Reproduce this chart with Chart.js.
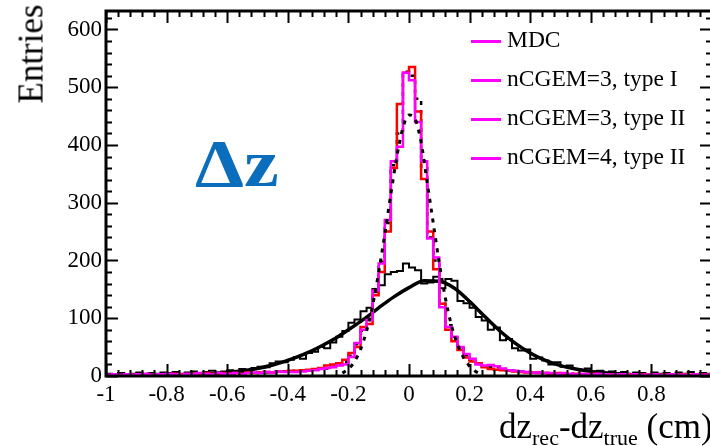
<!DOCTYPE html>
<html><head><meta charset="utf-8">
<script src="https://cdn.jsdelivr.net/npm/chart.js@4.4.1/dist/chart.umd.min.js"></script>
<style>
html,body{margin:0;padding:0;background:#fff;overflow:hidden;width:710px;height:446px;}
#wrap{position:relative;width:716px;height:446px;}
canvas{position:absolute;left:0;top:0;}
.t{position:absolute;font-family:"Liberation Serif","DejaVu Serif",serif;color:#000;white-space:nowrap;line-height:1;}
#ytitle{font-size:35px;left:31px;top:54px;transform:translate(-50%,-50%) rotate(-90deg);}
#xtitle{font-size:35px;left:499px;top:409px;}
#xtitle sub{font-size:22px;vertical-align:-7px;}
#dz{font-size:68px;font-weight:bold;color:#0a6ebd;left:195px;top:129px;transform-origin:0 0;transform:scaleX(1.15);}
.lg{position:absolute;left:471px;height:0;}
.lg i{position:absolute;left:0;top:-1px;width:30px;height:2.5px;background:#ff00ff;}
.lg span{position:absolute;left:36px;top:-13px;font-size:23.5px;}
</style></head><body>
<div id="wrap">
<canvas id="c" width="716" height="446"></canvas>
<div class="t" id="ytitle">Entries</div>
<div class="t" id="xtitle">dz<sub>rec</sub>-dz<sub>true</sub> (cm)</div>
<div class="t" id="dz">Δz</div>
<div class="lg t" style="top:41px"><i></i><span>MDC</span></div>
<div class="lg t" style="top:80px"><i></i><span>nCGEM=3, type I</span></div>
<div class="lg t" style="top:119px"><i></i><span>nCGEM=3, type II</span></div>
<div class="lg t" style="top:158px"><i></i><span>nCGEM=4, type II</span></div>
</div>
<script>
// ---- data ----
const BIN_START = -1.0;
const BIN_WIDTH = 0.02;
const xTickValues = [-1,-0.8,-0.6,-0.4,-0.2,0,0.2,0.4,0.6,0.8];
const xTickLabels = ["-1","-0.8","-0.6","-0.4","-0.2","0","0.2","0.4","0.6","0.8"];
const yTickValues = [0,100,200,300,400,500,600];
const yTickLabels = ["0","100","200","300","400","500","600"];

// MDC (black solid histogram)
const mdc = [4,3,5,2,4,6,3,5,4,6, 5,7,4,6,8,5,7,9,6,8,
  10,8,12,10,14,16,15,22,25,24, 28,33,30,40,42,50,48,58,68,78,
  92,98,112,118,145,157,176,180,182,195, 188,183,160,162,172,152,168,165,130,126,
  118,102,96,80,84,62,64,48,44,46, 30,32,27,20,24,16,18,12,10,13,
  8,9,6,8,5,7,4,6,5,3, 6,4,5,3,6,4,7,3,5,4];

// nCGEM=3, type I (red histogram)
const cgem3I = [1,2,1,3,2,2,3,2,3,2, 3,4,3,2,4,3,5,4,3,5,
  4,5,4,6,5,6,7,6,8,8, 9,9,10,11,12,14,18,20,22,28,
  40,50,85,90,140,180,250,360,471,525, 535,458,341,250,185,125,80,60,45,32,
  25,22,15,12,11,10,9,8,7,6, 6,5,5,4,5,4,3,4,3,3,
  4,3,2,3,3,2,3,2,2,3, 2,2,3,2,2,3,2,2,2,2];

// nCGEM=3, type II (magenta histogram)
const cgem3II = [2,3,2,3,2,3,4,2,3,3, 4,3,2,4,3,5,4,3,5,4,
  4,5,3,5,6,5,7,6,8,7, 7,7,8,9,10,12,14,15,18,20,
  33,57,80,97,148,195,270,372,397,525, 512,440,372,238,205,119,85,68,50,38,
  30,20,18,19,17,13,10,9,8,7, 6,6,5,5,4,5,4,3,4,3,
  3,4,3,2,3,3,2,3,2,2, 3,2,2,3,2,2,2,3,2,2];

// nCGEM=4, type II (black dashed histogram)
const cgem4II = [2,2,3,2,3,2,3,3,2,3, 3,4,3,3,4,4,3,5,4,4,
  5,4,5,6,5,6,6,7,7,8, 8,9,9,10,11,12,13,16,19,24,
  35,55,78,100,150,198,265,365,420,527, 520,480,360,240,200,125,88,66,48,36,
  28,22,17,16,15,12,10,9,8,7, 6,6,5,4,4,4,4,3,3,3,
  3,3,3,2,3,2,2,3,2,2, 2,2,2,2,2,2,2,2,2,2];

// Fit curves (x in cm, y in entries)
const fitMdcX = [-0.7,-0.65,-0.6,-0.55,-0.5,-0.45,-0.4,-0.35,-0.3,-0.25,-0.2,-0.15,-0.1,-0.05,0,0.05,0.1,0.15,0.2,0.25,0.3,0.35,0.4,0.45,0.5,0.55,0.6,0.65,0.7,0.75];
const fitMdcY = [3,4,6,9,13,19,27,37,49,63,80,98,118,137,153,165,164,152,129,103,78,57,40,27,18,12,8,5,3,2];
const fitNarrowX = [-0.22,-0.2,-0.18,-0.16,-0.14,-0.12,-0.1,-0.08,-0.06,-0.04,-0.02,0,0.02,0.04,0.06,0.08,0.1,0.12,0.14,0.16,0.18,0.2,0.22,0.24];
const fitNarrowY = [5,12,25,46,78,122,180,245,315,380,430,452,445,405,335,265,195,135,88,55,32,17,8,3];

// ---- build ----
function histPoints(vals){
  const pts = vals.map((v,i)=>({x: BIN_START + i*BIN_WIDTH, y: v}));
  pts.push({x: BIN_START + vals.length*BIN_WIDTH, y: vals[vals.length-1]});
  return pts;
}
function curvePoints(xs, ys){ return xs.map((x,i)=>({x, y: ys[i]})); }
function labelFor(vals, labels, v){
  const k = vals.findIndex(t => Math.abs(t - v) < 1e-6);
  return k >= 0 ? labels[k] : '';
}

const FONT = {family: '"Liberation Serif", "DejaVu Serif", serif', size: 23};

const frameTicks = {
  id: 'frameTicks',
  afterDatasetsDraw(chart){
    const {ctx, chartArea: a, scales} = chart;
    const xs = scales.x, ys = scales.y;
    ctx.save();
    ctx.strokeStyle = '#000';
    ctx.lineWidth = 2;
    ctx.beginPath();
    for (let k = 0; k <= 50; k++){
      const v = -1 + k*0.04;
      const px = Math.round(xs.getPixelForValue(v)) + 0.5;
      const len = (k % 5 === 0) ? 12 : 6;
      ctx.moveTo(px, a.bottom); ctx.lineTo(px, a.bottom - len);
      ctx.moveTo(px, a.top); ctx.lineTo(px, a.top + len);
    }
    for (let k = 0; k*20 <= ys.max; k++){
      const v = k*20;
      const py = Math.round(ys.getPixelForValue(v)) + 0.5;
      const len = (k % 5 === 0) ? 12 : 6;
      ctx.moveTo(a.left, py); ctx.lineTo(a.left + len, py);
      ctx.moveTo(a.right, py); ctx.lineTo(a.right - len, py);
    }
    ctx.stroke();
    ctx.lineWidth = 3;
    ctx.strokeRect(a.left, a.top, a.right - a.left, a.bottom - a.top);
    ctx.restore();
  }
};

new Chart(document.getElementById('c'), {
  type: 'line',
  data: {
    datasets: [
      {label:'MDC', data: histPoints(mdc), stepped: true, borderColor:'#000', borderWidth:2, pointRadius:0, fill:false, order:6},
      {label:'MDC fit', data: curvePoints(fitMdcX, fitMdcY), borderColor:'#000', borderWidth:3.5, pointRadius:0, fill:false, cubicInterpolationMode:'monotone', order:5},
      {label:'nCGEM=4, type II', data: histPoints(cgem4II), stepped: true, borderColor:'#000', borderWidth:2.5, borderDash:[4,5], pointRadius:0, fill:false, order:4},
      {label:'nCGEM=3, type I', data: histPoints(cgem3I), stepped: true, borderColor:'#ff0000', borderWidth:2.5, pointRadius:0, fill:false, order:3},
      {label:'nCGEM=3, type II', data: histPoints(cgem3II), stepped: true, borderColor:'#ff00ff', borderWidth:2.5, pointRadius:0, fill:false, order:2},
      {label:'narrow fit', data: curvePoints(fitNarrowX, fitNarrowY), borderColor:'#000', borderWidth:3, borderDash:[4,6], pointRadius:0, fill:false, cubicInterpolationMode:'monotone', order:1}
    ]
  },
  options: {
    responsive: false, animation: false, devicePixelRatio: 1,
    layout: {padding: {top: 11, right: 4, left: 0, bottom: 0}},
    plugins: {legend: {display: false}, tooltip: {enabled: false}},
    scales: {
      x: {type:'linear', min:-1, max:1,
        grid:{display:false, drawTicks:false}, border:{display:false},
        ticks:{stepSize:0.2, includeBounds:false, color:'#000', font:FONT, padding:5, maxRotation:0, autoSkip:false,
          callback:(v)=> labelFor(xTickValues, xTickLabels, v)},
        afterFit: s => { s.height = 70; s.paddingLeft = 0; s.paddingRight = 0; }
      },
      y: {type:'linear', min:0, max:632,
        grid:{display:false, drawTicks:false}, border:{display:false},
        ticks:{stepSize:100, includeBounds:false, color:'#000', font:FONT, padding:4,
          callback:(v)=> labelFor(yTickValues, yTickLabels, v)},
        afterFit: s => { s.width = 106; s.paddingTop = 0; s.paddingBottom = 0; }
      }
    }
  },
  plugins: [frameTicks]
});
</script>
</body></html>
